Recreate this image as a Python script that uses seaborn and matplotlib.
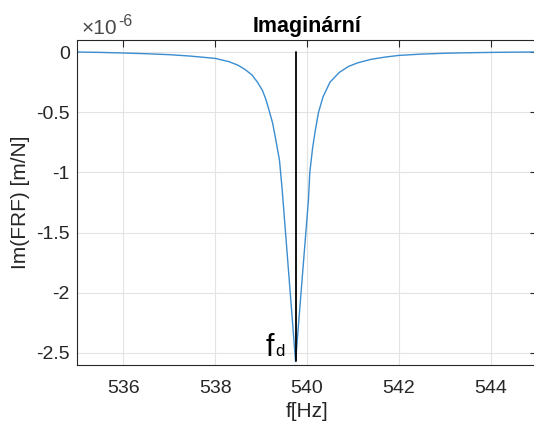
import numpy as np
import pandas as pd
import matplotlib
matplotlib.use("Agg")
import matplotlib.pyplot as plt
import seaborn as sns

# Frequency [Hz] and imaginary part of FRF [x1e-6 m/N]
freq = [535.0, 535.5, 536.0, 536.5, 537.0, 537.4, 537.7, 538.0, 538.3, 538.5,
        538.65, 538.8, 538.92, 539.03, 539.1, 539.17, 539.25, 539.32, 539.40,
        539.46, 539.75, 540.03, 540.06, 540.12, 540.18, 540.25, 540.35, 540.5,
        540.7, 540.9, 541.1, 541.4, 541.7, 542.0, 542.5, 543.0, 543.5, 544.0,
        544.5, 545.0]
im_frf = [0.0, -0.003, -0.008, -0.014, -0.022, -0.032, -0.042, -0.053, -0.08,
          -0.11, -0.145, -0.19, -0.25, -0.32, -0.39, -0.48, -0.59, -0.73, -0.90,
          -1.15, -2.57, -1.23, -1.0, -0.80, -0.65, -0.50, -0.37, -0.25, -0.17,
          -0.12, -0.09, -0.06, -0.042, -0.028, -0.017, -0.010, -0.006, -0.003,
          -0.001, 0.0]
xticks = [536, 538, 540, 542, 544]
yticks = [0, -0.5, -1, -1.5, -2, -2.5]
ytick_labels = ["0", "-0.5", "-1", "-1.5", "-2", "-2.5"]

sns.set_style("white")
plt.rcParams['font.family'] = ['Liberation Sans', 'DejaVu Sans']
plt.rcParams['axes.unicode_minus'] = False

df = pd.DataFrame({"f": freq, "im": im_frf})

W, H = 534, 426
fig = plt.figure(figsize=(W / 100, H / 100), dpi=100)
ax = fig.add_axes([77.4 / W, 61 / H, 459.3 / W, 325 / H])

sns.lineplot(data=df, x="f", y="im", ax=ax, color="#3a8dd0", linewidth=1.0,
             estimator=None, sort=False)

i_min = int(np.argmin(im_frf))
fd = freq[i_min]
ax.plot([fd, fd], [0, im_frf[i_min]], color="black", linewidth=1.3)

# f_d label
fig.text(274.5 / W, 1 - 356 / H, "f", ha="right", va="baseline", fontsize=22,
         color="black")
fig.text(275.0 / W, 1 - 356 / H, "d", ha="left", va="baseline", fontsize=12,
         color="black")

ax.set_xlim(535, 545)
ax.set_ylim(-2.6, 0.1)
ax.set_xticks(xticks)
ax.set_xticklabels([str(t) for t in xticks])
ax.set_yticks(yticks)
ax.set_yticklabels(ytick_labels)

ax.grid(True, color="#e3e3e3", linewidth=0.8)
ax.tick_params(direction="in", length=5, width=0.8, colors="#262626",
               labelsize=14, top=True, right=True)
ax.tick_params(axis="x", pad=10.5)
ax.tick_params(axis="y", pad=5.5)
for s in ax.spines.values():
    s.set_color("#262626")
    s.set_linewidth(0.8)

ax.set_xlabel("f[Hz]", fontsize=15, color="#262626", labelpad=4)
ax.set_ylabel("Im(FRF) [m/N]", fontsize=15, color="#262626", labelpad=4.5)
ax.set_title("Imaginární", fontsize=15.5, fontweight="bold", color="black",
             pad=5.5)

# exponent label
fig.text(81.5 / W, 1 - 34.5 / H, "×10", ha="left", va="baseline",
         fontsize=15, color="#4a4a4a")
fig.text(118 / W, 1 - 25.5 / H, "-6", ha="left", va="baseline",
         fontsize=11.5, color="#4a4a4a")

fig.savefig("out.png", dpi=100)
